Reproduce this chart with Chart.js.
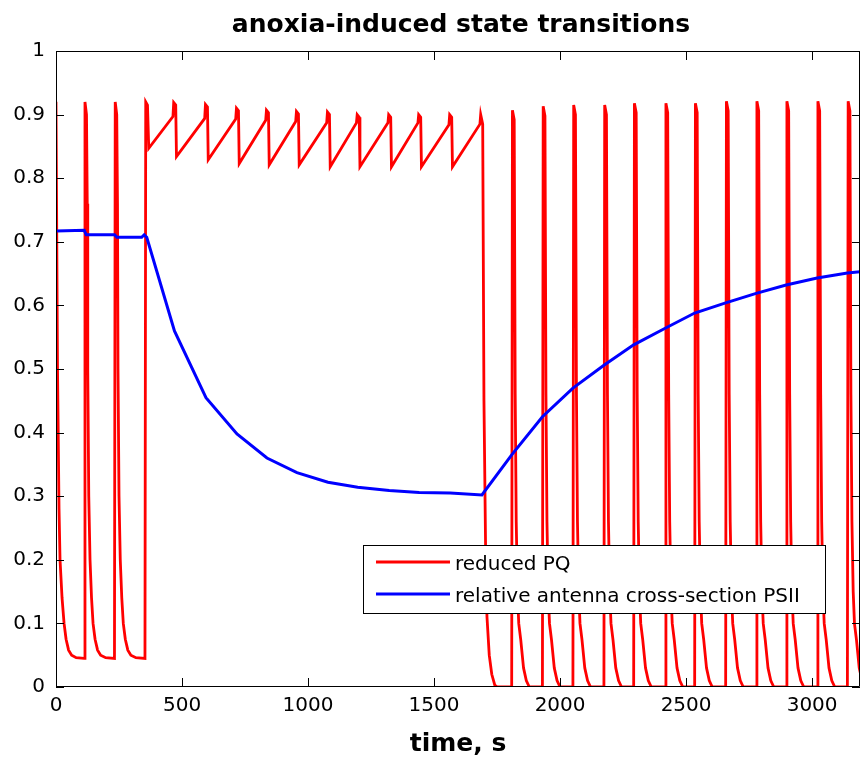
<!DOCTYPE html>
<html>
<head>
<meta charset="utf-8">
<script src="https://cdn.jsdelivr.net/npm/chart.js@4.4.1/dist/chart.umd.min.js"></script>
<style>
  html, body { margin: 0; padding: 0; background: #fff; }
</style>
</head>
<body>
<canvas id="myChart" width="860" height="765"></canvas>
<script>
// reduced PQ (red): time in s, value
var pqTime = [
    0, 6, 12, 16, 24, 32, 40, 50, 62, 80,
    112, 115, 121, 124, 126, 130, 135, 141, 147, 155, 165, 177, 197,
    232, 235, 241, 244, 246, 250, 255, 261, 267, 275, 285, 297, 317,
    353, 356, 363, 368,
    464, 467, 475, 478,
    590, 593, 601, 604,
    713, 716, 724, 727,
    832, 835, 843, 846,
    951, 954, 962, 965,
    1074, 1077, 1085, 1088,
    1192, 1195, 1203, 1206,
    1317, 1320, 1328, 1331,
    1436, 1439, 1447, 1450,
    1559, 1562, 1570, 1573,
    1682, 1685, 1693, 1698, 1705, 1710, 1719, 1729, 1741, 1751,
    1808, 1811, 1818, 1822, 1826, 1831, 1836, 1844, 1855, 1866, 1878,
    1930, 1933, 1940, 1944, 1948, 1953, 1958, 1966, 1977, 1988, 2000,
    2051, 2054, 2061, 2065, 2069, 2074, 2079, 2087, 2098, 2109, 2121,
    2174, 2177, 2184, 2188, 2192, 2197, 2202, 2210, 2221, 2232, 2244,
    2292, 2295, 2302, 2306, 2310, 2315, 2320, 2328, 2339, 2350, 2362,
    2417, 2420, 2427, 2431, 2435, 2440, 2445, 2453, 2464, 2475, 2487,
    2534, 2537, 2544, 2548, 2552, 2557, 2562, 2570, 2581, 2592, 2604,
    2657, 2660, 2667, 2671, 2675, 2680, 2685, 2693, 2704, 2715, 2727,
    2778, 2781, 2788, 2792, 2796, 2801, 2806, 2814, 2825, 2836, 2848,
    2897, 2900, 2907, 2911, 2915, 2920, 2925, 2933, 2944, 2955, 2967,
    3020, 3023, 3030, 3034, 3038, 3043, 3048, 3056, 3067, 3078, 3090,
    3140, 3143, 3150, 3154, 3158, 3163, 3168, 3176, 3187, 3198, 3210
];
var pqValue = [
    0.92, 0.5, 0.28, 0.2, 0.14, 0.1, 0.075, 0.058, 0.05, 0.046,
    0.045, 0.92, 0.90, 0.76, 0.5, 0.3, 0.2, 0.14, 0.1, 0.075, 0.058, 0.05, 0.046,
    0.045, 0.92, 0.90, 0.76, 0.5, 0.3, 0.2, 0.14, 0.1, 0.075, 0.058, 0.05, 0.046,
    0.045, 0.92, 0.915, 0.847,
    0.897, 0.919, 0.915, 0.834,
    0.894, 0.916, 0.912, 0.829,
    0.893, 0.910, 0.906, 0.823,
    0.891, 0.907, 0.903, 0.821,
    0.889, 0.905, 0.901, 0.821,
    0.887, 0.904, 0.900, 0.818,
    0.887, 0.900, 0.896, 0.818,
    0.887, 0.900, 0.896, 0.818,
    0.887, 0.900, 0.896, 0.818,
    0.884, 0.900, 0.896, 0.818,
    0.885, 0.900, 0.885, 0.45, 0.2, 0.11, 0.05, 0.02, 0.003, 0,
    0, 0.907, 0.892, 0.46, 0.26, 0.15, 0.10, 0.074, 0.03, 0.01, 0,
    0, 0.913, 0.898, 0.46, 0.26, 0.15, 0.10, 0.074, 0.03, 0.01, 0,
    0, 0.915, 0.900, 0.46, 0.26, 0.15, 0.10, 0.074, 0.03, 0.01, 0,
    0, 0.915, 0.900, 0.46, 0.26, 0.15, 0.10, 0.074, 0.03, 0.01, 0,
    0, 0.918, 0.903, 0.46, 0.26, 0.15, 0.10, 0.074, 0.03, 0.01, 0,
    0, 0.918, 0.903, 0.46, 0.26, 0.15, 0.10, 0.074, 0.03, 0.01, 0,
    0, 0.918, 0.903, 0.46, 0.26, 0.15, 0.10, 0.074, 0.03, 0.01, 0,
    0, 0.921, 0.906, 0.46, 0.26, 0.15, 0.10, 0.074, 0.03, 0.01, 0,
    0, 0.921, 0.906, 0.46, 0.26, 0.15, 0.10, 0.074, 0.03, 0.01, 0,
    0, 0.921, 0.906, 0.46, 0.26, 0.15, 0.10, 0.074, 0.03, 0.01, 0,
    0, 0.921, 0.906, 0.46, 0.26, 0.15, 0.10, 0.074, 0.03, 0.01, 0,
    0, 0.921, 0.906, 0.46, 0.26, 0.15, 0.10, 0.074, 0.03, 0.01, 0
];

// relative antenna cross-section PSII (blue)
var antTime = [0, 112, 120, 232, 242, 340, 350, 360, 470, 595, 718, 837, 956, 1079, 1197, 1322, 1441, 1564, 1690,
    1808, 1930, 2051, 2174, 2292, 2417, 2534, 2657, 2778, 2897, 3020, 3140, 3190];
var antValue = [0.717, 0.718, 0.711, 0.711, 0.707, 0.707, 0.711, 0.707, 0.56, 0.455, 0.398, 0.36, 0.337, 0.322, 0.314, 0.309, 0.306, 0.305, 0.302,
    0.365, 0.425, 0.47, 0.506, 0.538, 0.564, 0.588, 0.604, 0.619, 0.632, 0.643, 0.651, 0.653];

var xTicks = [0, 500, 1000, 1500, 2000, 2500, 3000];
var yTicks = [0, 0.1, 0.2, 0.3, 0.4, 0.5, 0.6, 0.7, 0.8, 0.9, 1];

var titleText = 'anoxia-induced state transitions';
var seriesNames = ['reduced PQ', 'relative antenna cross-section PSII'];
var seriesColors = ['#ff0000', '#0000ff'];

function toPoints(xs, ys) {
    var pts = [];
    for (var i = 0; i < xs.length; i++) pts.push({ x: xs[i], y: ys[i] });
    return pts;
}

// MATLAB style box with inward ticks on all four sides
var boxTicks = {
    id: 'boxTicks',
    afterDatasetsDraw: function (chart) {
        var ctx = chart.ctx, a = chart.chartArea;
        var xs = chart.scales.x, ys = chart.scales.y;
        ctx.save();
        ctx.strokeStyle = '#000';
        ctx.lineWidth = 1;
        ctx.beginPath();
        ctx.rect(a.left + 0.5, a.top + 0.5, a.right - a.left - 1, a.bottom - a.top - 1);
        xs.ticks.forEach(function (t) {
            var px = Math.round(xs.getPixelForValue(t.value)) + 0.5;
            ctx.moveTo(px, a.bottom); ctx.lineTo(px, a.bottom - 9);
            ctx.moveTo(px, a.top); ctx.lineTo(px, a.top + 9);
        });
        ys.ticks.forEach(function (t) {
            var py = Math.round(ys.getPixelForValue(t.value)) + 0.5;
            ctx.moveTo(a.left, py); ctx.lineTo(a.left + 8, py);
            ctx.moveTo(a.right, py); ctx.lineTo(a.right - 8, py);
        });
        ctx.stroke();
        ctx.restore();
    }
};

// title centred over the axes, and the boxed legend
var boxLegend = {
    id: 'boxLegend',
    afterDraw: function (chart) {
        var ctx = chart.ctx, a = chart.chartArea;
        ctx.save();
        ctx.fillStyle = '#000';
        ctx.font = 'bold 25px "DejaVu Sans"';
        ctx.textAlign = 'center';
        ctx.textBaseline = 'alphabetic';
        ctx.fillText(titleText, (a.left + a.right) / 2 + 3, 32);

        ctx.fillStyle = '#fff';
        ctx.fillRect(363, 545, 462, 68);
        ctx.strokeStyle = '#000';
        ctx.lineWidth = 1;
        ctx.strokeRect(363.5, 545.5, 462, 68);
        ctx.font = '20px "DejaVu Sans"';
        ctx.textAlign = 'left';
        var rows = [562, 594];
        var base = [570, 602];
        for (var i = 0; i < seriesNames.length; i++) {
            ctx.strokeStyle = seriesColors[i];
            ctx.lineWidth = 3;
            ctx.beginPath();
            ctx.moveTo(376, rows[i]);
            ctx.lineTo(450, rows[i]);
            ctx.stroke();
            ctx.fillStyle = '#000';
            ctx.fillText(seriesNames[i], 455, base[i]);
        }
        ctx.restore();
    }
};

Chart.defaults.font.family = '"DejaVu Sans"';
Chart.defaults.color = '#000';

var ctx = document.getElementById('myChart').getContext('2d');
var myChart = new Chart(ctx, {
    type: 'line',
    data: {
        datasets: [{
            label: seriesNames[0],
            data: toPoints(pqTime, pqValue),
            borderColor: seriesColors[0],
            borderWidth: 2.8,
            pointRadius: 0,
            tension: 0,
            order: 2
        }, {
            label: seriesNames[1],
            data: toPoints(antTime, antValue),
            borderColor: seriesColors[1],
            borderWidth: 3,
            pointRadius: 0,
            tension: 0,
            order: 1
        }]
    },
    options: {
        responsive: false,
        animation: false,
        devicePixelRatio: 1,
        layout: { padding: { top: 51, right: 0, left: 0, bottom: 0 } },
        plugins: {
            legend: { display: false },
            tooltip: { enabled: false },
            title: { display: false }
        },
        scales: {
            x: {
                type: 'linear',
                min: 0,
                max: 3190,
                grid: { display: false, drawTicks: false },
                border: { display: false },
                afterBuildTicks: function (s) {
                    s.ticks = xTicks.map(function (v) { return { value: v }; });
                },
                ticks: {
                    padding: 7,
                    font: { size: 20 },
                    maxRotation: 0,
                    autoSkip: false,
                    callback: function (v) { return String(v); }
                },
                title: { display: true, text: 'time, s', font: { size: 25, weight: 'bold' }, padding: { top: 0, bottom: 6 } },
                afterFit: function (s) { s.height = 78; }
            },
            y: {
                min: 0,
                max: 1,
                grid: { display: false, drawTicks: false },
                border: { display: false },
                afterBuildTicks: function (s) {
                    s.ticks = yTicks.map(function (v) { return { value: v }; });
                },
                ticks: {
                    padding: 11,
                    font: { size: 20 },
                    autoSkip: false,
                    callback: function (v) { return String(Math.round(v * 10) / 10); }
                },
                afterFit: function (s) { s.width = 56; }
            }
        }
    },
    plugins: [boxTicks, boxLegend]
});
</script>
</body>
</html>
